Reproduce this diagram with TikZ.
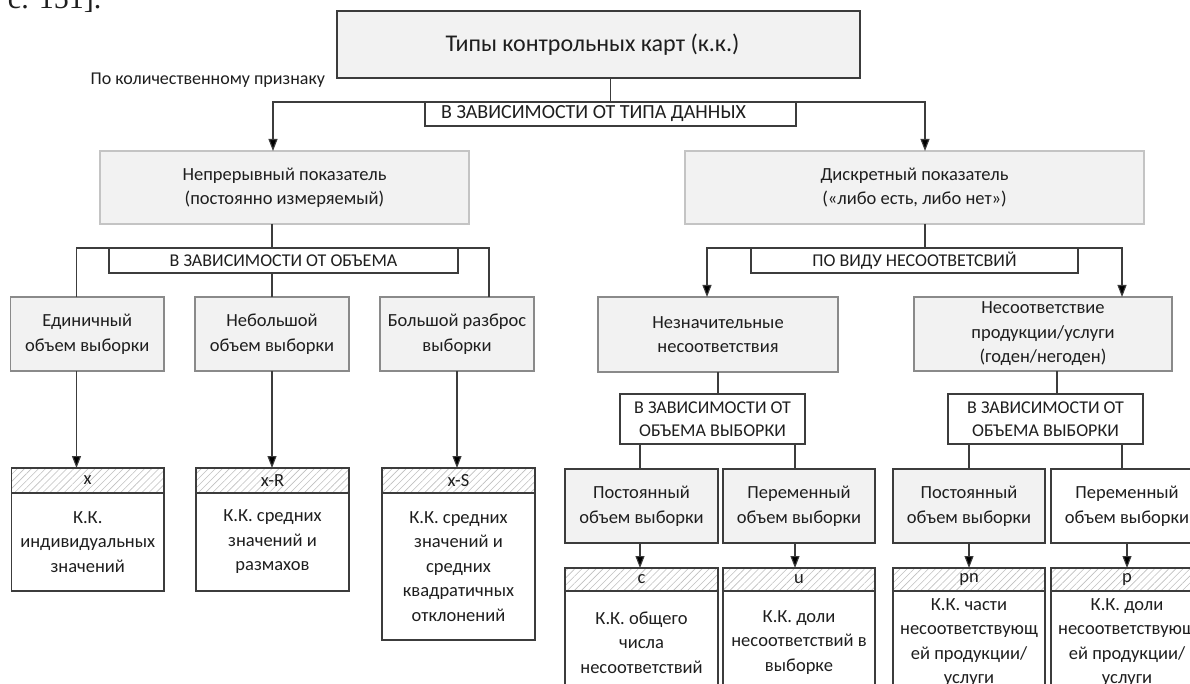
\documentclass[tikz,border=0pt]{standalone}
\usepackage{fontspec}
\setmainfont{Carlito}
\newfontfamily\serifcut{Liberation Serif}
\usetikzlibrary{arrows.meta,patterns.meta,calc}
\definecolor{boxfill}{HTML}{F2F2F2}
\definecolor{darkline}{HTML}{3C3C3C}
\definecolor{midline}{HTML}{8A8A8A}
\definecolor{lightline}{HTML}{C4C4C4}
\definecolor{hatchcol}{HTML}{C0C0C0}
\definecolor{txt}{HTML}{1E1E1E}
\begin{document}
\begin{tikzpicture}[x=1pt,y=-1pt,
  every node/.style={inner sep=0pt,outer sep=0pt,align=center,text=txt,font=\fontsize{18.5}{24.5}\selectfont},
  capfont/.style={font=\fontsize{18}{23.5}\selectfont},
  gbox/.style={draw=#1,fill=boxfill,line width=1.1pt},
  gbox/.default=midline,
  wbox/.style={draw=darkline,fill=white,line width=1.1pt},
  lbox/.style={draw=darkline,fill=white,line width=1.1pt,capfont},
  hdr/.style={draw=darkline,line width=1.1pt,pattern={Lines[angle=45,distance=5pt,line width=0.6pt]},pattern color=hatchcol},
  conn/.style={draw=darkline,line width=1.1pt},
  arr/.style={conn,-{Triangle[length=12pt,width=9pt,fill=black]}},
  ]
\useasboundingbox (0,0) rectangle (1190,684);
\fill[white] (0,0) rectangle (1190,684);
\clip (0,0) rectangle (1190,684);

% cut-off text fragment at the top
\node[font=\serifcut\fontsize{30}{34}\selectfont,anchor=base west] (cut) at (8,8.5) {с. 151].};

% title
\node[gbox=darkline,minimum width=523,minimum height=67,font=\fontsize{24}{28}\selectfont] (T) at (598.5,44.5) {Типы контрольных карт (к.к.)\hspace*{12pt}};
\node[font=\fontsize{18}{22}\selectfont,anchor=east] (Q) at (325,80) {По количественному признаку};
\node[lbox,font=\fontsize{20}{24}\selectfont,minimum width=371,minimum height=24] (L1) at (610.5,114) {В ЗАВИСИМОСТИ ОТ ТИПА ДАННЫХ\hspace*{34pt}};

% level 2
\node[gbox=lightline,minimum width=369,minimum height=73] (N) at (284.5,187.5) {Непрерывный показатель\\(постоянно измеряемый)};
\node[gbox=lightline,minimum width=459,minimum height=73] (D) at (914.5,187.5) {Дискретный показатель\\(«либо есть, либо нет»)};

\node[lbox,minimum width=349,minimum height=25] (L2) at (283.5,260.5) {В ЗАВИСИМОСТИ ОТ ОБЪЕМА};
\node[lbox,minimum width=327,minimum height=25] (L3) at (914.5,260.5) {ПО ВИДУ НЕСООТВЕТСВИЙ};

% left branch
\node[gbox,minimum width=153.5,minimum height=74] (S1) at (87.25,334) {Единичный\\объем выборки};
\node[gbox,minimum width=154,minimum height=74] (S2) at (272,334) {Небольшой\\объем выборки};
\node[gbox,minimum width=154,minimum height=74] (S3) at (457,334) {Большой разброс\\выборки};

\node[hdr,minimum width=152.5,minimum height=25] (R1h) at (87.75,480.5) {x};
\node[wbox,minimum width=152.5,minimum height=98] (R1) at (87.75,542) {К.К.\\индивидуальных\\значений};
\node[hdr,minimum width=153,minimum height=25] (R2h) at (272.5,480.5) {x-R};
\node[wbox,minimum width=153,minimum height=98] (R2) at (272.5,542) {К.К. средних\\значений и\\размахов};
\node[hdr,minimum width=153,minimum height=25] (R3h) at (458.5,480.5) {x-S};
\node[wbox,minimum width=153,minimum height=147] (R3) at (458.5,566.5) {К.К. средних\\значений и\\средних\\квадратичных\\отклонений};

% right branch
\node[gbox,minimum width=240,minimum height=75] (M1) at (718,334.5) {Незначительные\\несоответствия};
\node[gbox,minimum width=258,minimum height=74] (M2) at (1043,334) {Несоответствие\\продукции/услуги\\(годен/негоден)};
\node[lbox,minimum width=185,minimum height=50] (L4) at (712.5,419) {В ЗАВИСИМОСТИ ОТ\\ОБЪЕМА ВЫБОРКИ};
\node[lbox,minimum width=195,minimum height=50] (L5) at (1045.5,419) {В ЗАВИСИМОСТИ ОТ\\ОБЪЕМА ВЫБОРКИ};

\node[gbox=darkline,minimum width=153,minimum height=74] (B1) at (641.5,506) {Постоянный\\объем выборки};
\node[gbox=darkline,minimum width=152,minimum height=74] (B2) at (799,506) {Переменный\\объем выборки};
\node[gbox=darkline,minimum width=152,minimum height=74] (B3) at (969,506) {Постоянный\\объем выборки};
\node[wbox,minimum width=152,minimum height=74] (B4) at (1127,506) {Переменный\\объем выборки};

\node[hdr,minimum width=153,minimum height=23] (C1h) at (641.5,579.5) {c};
\node[wbox,minimum width=153,minimum height=103] (C1) at (641.5,642.5) {К.К. общего\\числа\\несоответствий};
\node[hdr,minimum width=152,minimum height=23] (C2h) at (799,579.5) {u};
\node[wbox,minimum width=152,minimum height=103] (C2) at (799,642.5) {К.К. доли\\несоответствий в\\выборке};
\node[hdr,minimum width=152,minimum height=23] (C3h) at (969,579.5) {pn};
\node[wbox,minimum width=152,minimum height=103] (C3) at (969,642.5) {К.К. части\\несоответствующ\\ей продукции/\\услуги};
\node[hdr,minimum width=152,minimum height=23] (C4h) at (1127,579.5) {p};
\node[wbox,minimum width=152,minimum height=103] (C4) at (1127,642.5) {К.К. доли\\несоответствующ\\ей продукции/\\услуги};

% connectors, top
\draw[conn] (L1.north |- T.south) -- (L1.north);
\draw[arr] (L1.north) -| ([xshift=-11.5]N.north);
\draw[arr] (L1.north) -| ([xshift=10.5]D.north);

% left branch connectors
\draw[conn] ([xshift=-12.5]N.south) -- ([xshift=-12.5]N.south |- L2.north);
\draw[conn] ([xshift=-12.5]N.south |- L2.north) -| ([xshift=-10.75]S1.north);
\draw[conn] ([xshift=-12.5]N.south |- L2.north) -| ([xshift=32]S3.north);
\draw[conn] (S2.north |- L2.south) -- (S2.north);
\draw[arr] ([xshift=-10.75]S1.south) -- ([xshift=-10.75]S1.south |- R1h.north);
\draw[arr] (S2.south) -- (S2.south |- R2h.north);
\draw[arr] (S3.south) -- (S3.south |- R3h.north);

% right branch connectors
\draw[conn] ([xshift=10.5]D.south) -- ([xshift=10.5]D.south |- L3.north);
\draw[arr] ([xshift=10.5]D.south |- L3.north) -| ([xshift=-11]M1.north);
\draw[arr] ([xshift=10.5]D.south |- L3.north) -| ([xshift=79]M2.north);
\draw[conn] (M1.south) -- (M1.south |- L4.north);
\draw[conn] ([xshift=14]M2.south) -- ([xshift=14]M2.south |- L5.north);
\draw[conn] ([xshift=-1.5]B1.north |- L4.south) -- ([xshift=-1.5]B1.north);
\draw[conn] ([xshift=-4]B2.north |- L4.south) -- ([xshift=-4]B2.north);
\draw[conn] (B3.north |- L5.south) -- (B3.north);
\draw[conn] ([xshift=-5]B4.north |- L5.south) -- ([xshift=-5]B4.north);
\draw[arr] ([xshift=-1.5]B1.south) -- ([xshift=-1.5]B1.south |- C1h.north);
\draw[arr] ([xshift=-4]B2.south) -- ([xshift=-4]B2.south |- C2h.north);
\draw[arr] (B3.south) -- (B3.south |- C3h.north);
\draw[arr] (B4.south) -- (B4.south |- C4h.north);
\end{tikzpicture}
\end{document}
